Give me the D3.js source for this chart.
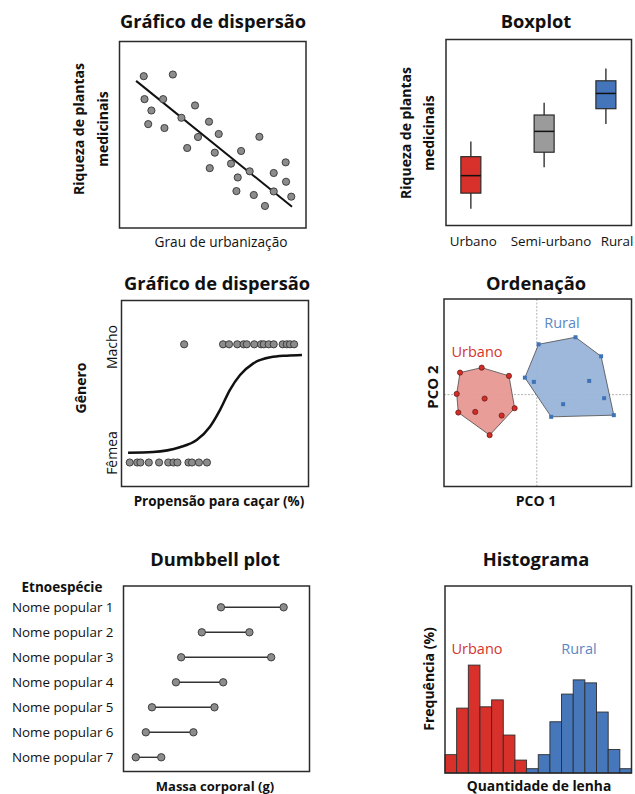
<!DOCTYPE html>
<html>
<head>
<meta charset="utf-8">
<script src="https://cdn.jsdelivr.net/npm/d3@7"></script>
<style>
  body { margin: 0; background: #fff; }
  text { font-family: "Open Sans", "Noto Sans", sans-serif; fill: #111; }
</style>
</head>
<body>
<div id="chart"></div>
<script>
// ---- data ----
// scatter: grau de urbanizacao x riqueza (0-100 units)
var scatterX = [13.0, 28.6, 13.4, 23.4, 17.1, 15.4, 24.1, 33.2, 40.5, 48.0, 42.1, 53.2, 36.3, 51.1,
                48.4, 65.2, 75.0, 59.8, 63.4, 69.8, 62.7, 72.0, 82.7, 89.1, 82.7, 89.3, 78.0, 92.1];
var scatterY = [81.4, 82.3, 69.1, 69.1, 63.0, 55.7, 53.6, 59.1, 65.7, 57.0, 48.8, 50.4, 42.9, 40.4,
                32.1, 41.3, 48.9, 34.5, 27.1, 30.4, 19.8, 17.7, 29.5, 35.2, 19.6, 24.8, 11.8, 16.8];
var trendLine = [[8.9, 78.9], [92.5, 11.4]];

// boxplot
var boxCategories = ["Urbano", "Semi-urbano", "Rural"];
var boxPos = [0.134, 0.529, 0.862];
var boxLabelPos = [0.147, 0.566, 0.922];
var boxMin = [9.0, 31.3, 54.6];
var boxQ1 = [17.4, 39.4, 62.8];
var boxMedian = [26.8, 50.6, 71.0];
var boxQ3 = [37.0, 59.4, 77.8];
var boxMax = [45.1, 66.0, 84.4];
var boxColors = ["#d8312b", "#9b9b9b", "#4475ba"];

// logistic: propensao para cacar (0-100), genero 0 = Femea, 1 = Macho
var genderLabels = ["Fêmea", "Macho"];
var machoX = [33.5, 54.3, 57.5, 61.9, 65.3, 67.0, 71.0, 74.6, 76.1, 78.7, 81.4, 86.2, 88.4, 90.1, 92.3];
var femeaX = [4.4, 8.4, 10.1, 14.6, 20.1, 25.0, 27.8, 29.9, 35.8, 37.7, 41.4, 45.7];
var curveX = [3.5, 16.9, 31.2, 40.2, 47.3, 52.7, 58.0, 63.4, 70.5, 79.7, 88.4, 96.5];
var curveY = [0.083, 0.089, 0.129, 0.190, 0.303, 0.446, 0.615, 0.740, 0.839, 0.890, 0.904, 0.910];

// ordination (PCO 1, PCO 2)
var urbanoPCO1 = [-0.811, -0.582, -0.294, -0.846, -0.551, -0.234, -0.829, -0.650, -0.371, -0.498];
var urbanoPCO2 = [0.235, 0.288, 0.200, 0.008, -0.042, -0.145, -0.191, -0.184, -0.223, -0.432];
var ruralPCO1 = [0.019, 0.409, 0.679, -0.126, -0.031, 0.553, 0.711, 0.278, 0.152, 0.813];
var ruralPCO2 = [0.537, 0.612, 0.409, 0.181, 0.136, 0.146, -0.038, -0.102, -0.237, -0.219];

// dumbbell
var speciesNames = ["Nome popular 1", "Nome popular 2", "Nome popular 3", "Nome popular 4",
                    "Nome popular 5", "Nome popular 6", "Nome popular 7"];
var massLow = [52.4, 42.1, 31.0, 28.2, 15.3, 12.0, 6.6];
var massHigh = [86.1, 67.7, 79.4, 53.6, 48.9, 37.6, 20.3];

// histogram (bins 0..15)
var histUrbano = [9.8, 34.7, 57.7, 35.4, 39.1, 20.3, 6.9];
var histRural = [2.3, 9.8, 27.4, 42.2, 49.8, 48.2, 32.6, 12.6, 2.3];

var red = "#d8312b", blue = "#4475ba", grayPt = "#8c8c8c";

var svg = d3.select("#chart").append("svg")
    .attr("width", 635)
    .attr("height", 794);

// helpers
function frame(x0, x1, y0, y1) {
  svg.append("rect")
    .attr("x", x0).attr("y", y0)
    .attr("width", x1 - x0).attr("height", y1 - y0)
    .attr("fill", "none")
    .attr("stroke", "#2b2b2b")
    .attr("stroke-width", 1.5);
}

function label(txt, x, y, opts) {
  opts = opts || {};
  var t = svg.append("text")
    .attr("x", x).attr("y", y)
    .attr("text-anchor", opts.anchor || "middle")
    .attr("font-size", opts.size || 14)
    .attr("font-weight", opts.bold ? 700 : 400)
    .text(txt);
  if (opts.color) t.style("fill", opts.color);
  if (opts.rotate) {
    t.attr("dominant-baseline", "central")
     .attr("transform", "rotate(-90," + x + "," + y + ")");
  }
  return t;
}

function title(txt, x, y) {
  label(txt, x, y, {size: 18.3, bold: true});
}

// ---- 1. scatter ----
(function() {
  var x = d3.scaleLinear([0, 100], [119.5, 306]);
  var y = d3.scaleLinear([0, 100], [228, 41.5]);
  frame(119.5, 306, 41.5, 228);
  title("Gráfico de dispersão", 213, 28);

  svg.append("line")
    .attr("x1", x(trendLine[0][0])).attr("y1", y(trendLine[0][1]))
    .attr("x2", x(trendLine[1][0])).attr("y2", y(trendLine[1][1]))
    .attr("stroke", "#111").attr("stroke-width", 2);

  svg.append("g").selectAll("circle")
    .data(scatterX)
    .enter().append("circle")
      .attr("cx", function(d) { return x(d); })
      .attr("cy", function(d, i) { return y(scatterY[i]); })
      .attr("r", 3.6)
      .attr("fill", grayPt)
      .attr("stroke", "#333")
      .attr("stroke-width", 0.9);

  label("Riqueza de plantas", 78, 129, {bold: true, rotate: true});
  label("medicinais", 102, 129, {bold: true, rotate: true});
  label("Grau de urbanização", 221, 247, {size: 13.7});
})();

// ---- 2. boxplot ----
(function() {
  var x = d3.scaleLinear([0, 1], [446, 631.5]);
  var y = d3.scaleLinear([0, 100], [225.5, 39.5]);
  var bw = 20;
  frame(446, 631.5, 39.5, 225.5);
  title("Boxplot", 536, 28);

  var g = svg.append("g").selectAll("g")
    .data(boxCategories)
    .enter().append("g");

  g.append("line")
    .attr("x1", function(d, i) { return x(boxPos[i]); })
    .attr("x2", function(d, i) { return x(boxPos[i]); })
    .attr("y1", function(d, i) { return y(boxMin[i]); })
    .attr("y2", function(d, i) { return y(boxMax[i]); })
    .attr("stroke", "#333").attr("stroke-width", 1.4);

  g.append("rect")
    .attr("x", function(d, i) { return x(boxPos[i]) - bw / 2; })
    .attr("y", function(d, i) { return y(boxQ3[i]); })
    .attr("width", bw)
    .attr("height", function(d, i) { return y(boxQ1[i]) - y(boxQ3[i]); })
    .attr("fill", function(d, i) { return boxColors[i]; })
    .attr("stroke", "#2a2a2a").attr("stroke-width", 1.2);

  g.append("line")
    .attr("x1", function(d, i) { return x(boxPos[i]) - bw / 2; })
    .attr("x2", function(d, i) { return x(boxPos[i]) + bw / 2; })
    .attr("y1", function(d, i) { return y(boxMedian[i]); })
    .attr("y2", function(d, i) { return y(boxMedian[i]); })
    .attr("stroke", "#111").attr("stroke-width", 1.5);

  g.append("text")
    .attr("x", function(d, i) { return x(boxLabelPos[i]); })
    .attr("y", 246)
    .attr("text-anchor", "middle")
    .attr("font-size", 13.4)
    .text(function(d) { return d; });

  label("Riqueza de plantas", 405, 133, {bold: true, rotate: true});
  label("medicinais", 428, 133, {bold: true, rotate: true});
})();

// ---- 3. logistic ----
(function() {
  var x = d3.scaleLinear([0, 100], [121.5, 308.5]);
  var y = d3.scaleLinear([0, 1], [462.5, 344.3]);
  frame(121.5, 308.5, 300.5, 486.5);
  title("Gráfico de dispersão", 217, 290);

  var line = d3.line()
    .x(function(d) { return x(d); })
    .y(function(d, i) { return y(curveY[i]); })
    .curve(d3.curveMonotoneX);
  svg.append("path")
    .attr("d", line(curveX))
    .attr("fill", "none")
    .attr("stroke", "#111")
    .attr("stroke-width", 2.5);

  var pts = machoX.map(function(v) { return [v, 1]; })
    .concat(femeaX.map(function(v) { return [v, 0]; }));
  svg.append("g").selectAll("circle")
    .data(pts)
    .enter().append("circle")
      .attr("cx", function(d) { return x(d[0]); })
      .attr("cy", function(d) { return y(d[1]); })
      .attr("r", 3.6)
      .attr("fill", grayPt)
      .attr("stroke", "#333")
      .attr("stroke-width", 0.9);

  label(genderLabels[1], 111.5, 347, {rotate: true});
  label(genderLabels[0], 111.5, 453, {rotate: true});
  label("Gênero", 80, 388, {bold: true, rotate: true});
  label("Propensão para caçar (%)", 219, 506, {bold: true, size: 13.5});
})();

// ---- 4. ordination ----
(function() {
  var x = d3.scaleLinear([-0.98, 1], [444, 631.5]);
  var y = d3.scaleLinear([-0.98, 1.02], [486.5, 299]);

  svg.append("line")
    .attr("x1", x(0)).attr("x2", x(0)).attr("y1", 299).attr("y2", 486.5)
    .attr("stroke", "#aaa").attr("stroke-width", 0.9).attr("stroke-dasharray", "2,1.5");
  svg.append("line")
    .attr("x1", 444).attr("x2", 631.5).attr("y1", y(0)).attr("y2", y(0))
    .attr("stroke", "#aaa").attr("stroke-width", 0.9).attr("stroke-dasharray", "2,1.5");

  var urb = urbanoPCO1.map(function(v, i) { return [x(v), y(urbanoPCO2[i])]; });
  var rur = ruralPCO1.map(function(v, i) { return [x(v), y(ruralPCO2[i])]; });

  svg.append("path")
    .attr("d", "M" + d3.polygonHull(urb).join("L") + "Z")
    .attr("fill", "#e89892").attr("fill-opacity", 0.95)
    .attr("stroke", "#4a4a4a").attr("stroke-width", 0.8);
  svg.append("path")
    .attr("d", "M" + d3.polygonHull(rur).join("L") + "Z")
    .attr("fill", "#98b4d8").attr("fill-opacity", 0.95)
    .attr("stroke", "#4a4a4a").attr("stroke-width", 0.8);

  svg.append("g").selectAll("circle")
    .data(urb)
    .enter().append("circle")
      .attr("cx", function(d) { return d[0]; })
      .attr("cy", function(d) { return d[1]; })
      .attr("r", 2.6)
      .attr("fill", "#d42c26")
      .attr("stroke", "#5a1a16")
      .attr("stroke-width", 0.7);

  svg.append("g").selectAll("rect")
    .data(rur)
    .enter().append("rect")
      .attr("x", function(d) { return d[0] - 2; })
      .attr("y", function(d) { return d[1] - 2; })
      .attr("width", 4).attr("height", 4)
      .attr("fill", "#3f72b6");

  frame(444, 631.5, 299, 486.5);
  title("Ordenação", 536, 290);
  label("Urbano", 477, 357, {color: "#d5332c", size: 14.5});
  label("Rural", 562, 328, {color: "#5a87c4", size: 14.5});
  label("PCO 2", 432, 387, {bold: true, rotate: true, size: 15});
  label("PCO 1", 536, 506, {bold: true, size: 14});
})();

// ---- 5. dumbbell ----
(function() {
  var x = d3.scaleLinear([0, 100], [123.5, 309.5]);
  var y = d3.scalePoint(speciesNames, [607.3, 757.3]);
  frame(123.5, 309.5, 586, 771.5);
  title("Dumbbell plot", 215, 566);

  var g = svg.append("g").selectAll("g")
    .data(speciesNames)
    .enter().append("g");

  g.append("line")
    .attr("x1", function(d, i) { return x(massLow[i]); })
    .attr("x2", function(d, i) { return x(massHigh[i]); })
    .attr("y1", function(d) { return y(d); })
    .attr("y2", function(d) { return y(d); })
    .attr("stroke", "#333").attr("stroke-width", 1.4);

  [massLow, massHigh].forEach(function(arr) {
    g.append("circle")
      .attr("cx", function(d, i) { return x(arr[i]); })
      .attr("cy", function(d) { return y(d); })
      .attr("r", 3.7)
      .attr("fill", grayPt)
      .attr("stroke", "#333")
      .attr("stroke-width", 0.9);
  });

  g.append("text")
    .attr("x", 113.5)
    .attr("y", function(d) { return y(d); })
    .attr("dy", "0.35em")
    .attr("text-anchor", "end")
    .attr("font-size", 13.4)
    .text(function(d) { return d; });

  label("Etnoespécie", 62, 592, {bold: true, size: 13.5});
  label("Massa corporal (g)", 215, 791, {bold: true, size: 13});
})();

// ---- 6. histogram ----
(function() {
  var x = d3.scaleLinear([0, 16], [445, 631.5]);
  var y = d3.scaleLinear([0, 100], [773, 586]);
  var bins = histUrbano.map(function(v, i) { return {bin: i, v: v, c: red}; })
    .concat(histRural.map(function(v, i) { return {bin: i + histUrbano.length, v: v, c: "#4677ba"}; }));

  svg.append("g").selectAll("rect")
    .data(bins)
    .enter().append("rect")
      .attr("x", function(d) { return x(d.bin); })
      .attr("y", function(d) { return y(d.v); })
      .attr("width", x(1) - x(0))
      .attr("height", function(d) { return y(0) - y(d.v); })
      .attr("fill", function(d) { return d.c; })
      .attr("stroke", "#2e2e2e")
      .attr("stroke-width", 0.9);

  frame(445, 631.5, 586, 773);
  title("Histograma", 536, 566);
  label("Urbano", 477, 654, {color: "#d5332c", size: 14.5});
  label("Rural", 579, 654, {color: "#5a87c4", size: 14.5});
  label("Frequência (%)", 428, 679, {bold: true, rotate: true});
  label("Quantidade de lenha", 539, 791, {bold: true, size: 13.8});
})();
</script>
</body>
</html>
